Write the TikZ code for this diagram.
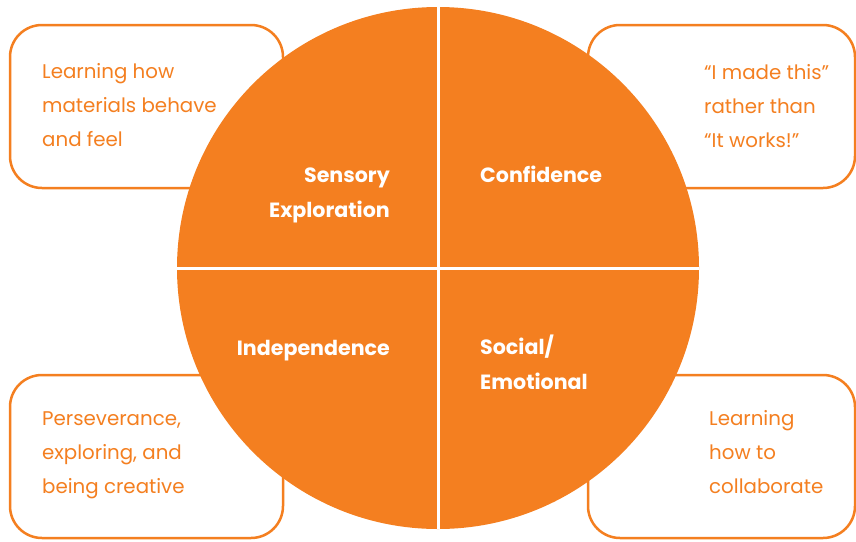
\documentclass[tikz,border=0pt]{standalone}
\usepackage{fontspec}
\setmainfont{Poppins}
\definecolor{org}{RGB}{244,127,32}
\begin{document}
\begin{tikzpicture}[x=1pt,y=-1pt,
  infobox/.style={draw=org, line width=2.5pt, rounded corners=32pt, fill=white, minimum height=163pt, inner sep=0pt},
  bodytext/.style={text=org, font=\fontsize{19.8}{34}\selectfont, align=left, inner sep=0pt},
  quadlabel/.style={text=white, font=\fontsize{20.6}{34.5}\selectfont\bfseries, inner sep=0pt}]
\useasboundingbox (0,0) rectangle (856,541);
% boxes
\node[infobox, minimum width=273pt] (b1) at (146.5,106.5) {};
\node[infobox, minimum width=267pt] (b2) at (721.5,106.5) {};
\node[infobox, minimum width=273pt] (b3) at (146.5,456.5) {};
\node[infobox, minimum width=267pt] (b4) at (721.5,456.5) {};
% circle
\node[circle, fill=org, minimum size=522pt, inner sep=0pt] (c) at (438,268) {};
\draw[white, line width=3pt] (c.north) -- (c.south);
\draw[white, line width=3pt] (c.west) -- (c.east);
% box texts
\node[bodytext, anchor=base west] (t1) at (42,146) {Learning how\\materials behave\\and feel};
\node[bodytext, anchor=base west] (t2) at (704,147) {“I made this”\\rather than\\“It works!”};
\node[bodytext, anchor=base west] (t3) at (42,493) {Perseverance,\\exploring, and\\being creative};
\node[bodytext, anchor=base west] (t4) at (709,493) {Learning\\how to\\collaborate};
% quadrant labels
\node[quadlabel, anchor=base east, align=right] (q1) at (390,217) {Sensory\\Exploration};
\node[quadlabel, anchor=base west, align=left] (q2) at (480,182) {Confidence};
\node[quadlabel, anchor=base east, align=right] (q3) at (390,355) {Independence};
\node[quadlabel, anchor=base west, align=left] (q4) at (480,389) {Social/\\Emotional};
\end{tikzpicture}
\end{document}
